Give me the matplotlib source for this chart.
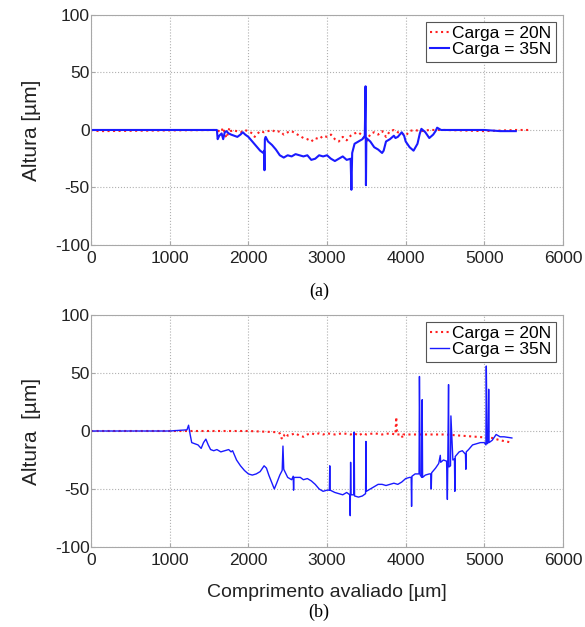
import matplotlib

matplotlib.use("Agg")
import matplotlib.pyplot as plt

# ---- (a) profile data ----
a_x20 = [0, 100, 1600, 1650, 1680, 1700, 1720, 1740, 1760, 1780, 1800, 1850, 1900,
         1950, 2000, 2050, 2080, 2120, 2150, 2200, 2250, 2300, 2350, 2400, 2450,
         2500, 2550, 2600, 2650, 2700, 2750, 2800, 2850, 2900, 2950, 3000, 3050,
         3100, 3150, 3200, 3250, 3300, 3350, 3400, 3450, 3480, 3500, 3530, 3560,
         3600, 3650, 3700, 3750, 3800, 3850, 3900, 3950, 4000, 4050, 4100, 4200,
         4300, 4500, 5000, 5400, 5600]
a_y20 = [0, -1, 0, -2, 2, -3, -7, -3, 2, -1, 0, -1, -2,
         0, -1, -3, -6, -3, -1, -2, -1, 0, -2, -1, -4,
         -2, -1, -3, -5, -7, -8, -10, -7, -8, -5, -6, -4,
         -8, -10, -6, -9, -5, -3, -2, -5, -8, -10, -6, -3,
         -2, -4, -1, -6, -1, 0, -2, -3, -5, -1, 0, -1,
         0, 0, -1, 0, 0]

a_x35 = [0, 500, 1000, 1550, 1600, 1610, 1630, 1660, 1680, 1700, 1720, 1750, 1780,
         1820, 1860, 1900, 1930, 1960, 2000, 2050, 2100, 2150, 2190, 2200, 2205,
         2210, 2220, 2250, 2300, 2350, 2400, 2450, 2500, 2550, 2600, 2650, 2700,
         2750, 2800, 2850, 2900, 2950, 3000, 3050, 3100, 3150, 3200, 3250, 3300,
         3310, 3320, 3350, 3400, 3450, 3480, 3490, 3495, 3500, 3550, 3600, 3650,
         3700, 3720, 3750, 3800, 3850, 3870, 3900, 3950, 3980, 4000, 4050, 4100,
         4150, 4180, 4200, 4250, 4300, 4350, 4380, 4400, 4450, 5000, 5200, 5400]
a_y35 = [0, 0, 0, 0, 0, -8, -5, -3, -8, -2, -1, -3, -4,
         -5, -6, -4, -2, -4, -6, -10, -14, -18, -20, -18, -35,
         -8, -6, -10, -13, -17, -22, -24, -22, -23, -21, -22, -23,
         -22, -26, -25, -22, -23, -22, -25, -27, -25, -23, -26, -25,
         -52, -20, -12, -10, -8, -5, 38, -48, -7, -10, -15, -17,
         -20, -18, -10, -8, -5, -7, -6, -2, -5, -10, -15, -18,
         -12, -3, 1, -2, -7, -4, -1, 2, 0, 0, -1, -1]

# ---- (b) profile data ----
b_x20 = [0, 1000, 2000, 2350, 2400, 2420, 2440, 2460, 2480, 2500, 2550, 2600, 2650,
         2700, 2750, 2800, 2850, 2900, 2950, 3000, 3100, 3200, 3300, 3350, 3400,
         3450, 3500, 3600, 3700, 3800, 3870, 3880, 3890, 3950, 3960, 3970, 4100,
         4300, 4500, 4700, 4900, 5100, 5200, 5350]
b_y20 = [0, 0, 0, -1, -2, -6, -7, -3, -2, -4, -3, -2, -4,
         -5, -3, -2, -3, -2, -3, -2, -3, -2, -3, -2, -4,
         -2, -3, -2, -3, -2, -3, 12, -3, -3, -6, -3, -3,
         -3, -3, -4, -5, -6, -8, -10]

b_x35 = [0, 1000, 1220, 1240, 1260, 1280, 1320, 1360, 1400, 1430, 1460, 1490, 1520,
         1560, 1600, 1650, 1700, 1750, 1780, 1800, 1850, 1900, 1950, 2000, 2050,
         2100, 2150, 2200, 2230, 2260, 2300, 2330, 2360, 2400, 2430, 2440, 2450,
         2500, 2550, 2570, 2575, 2580, 2620, 2660, 2700, 2750, 2800, 2850, 2900,
         2950, 3000, 3030, 3035, 3040, 3100, 3150, 3200, 3250, 3290, 3295, 3300,
         3305, 3340, 3345, 3350, 3400, 3450, 3490, 3495, 3500, 3550, 3600, 3650,
         3700, 3750, 3800, 3850, 3900, 3950, 4000, 4050, 4070, 4075, 4080, 4120,
         4170, 4175, 4185, 4205, 4210, 4215, 4250, 4300, 4320, 4325, 4330, 4380,
         4420, 4440, 4445, 4480, 4520, 4530, 4535, 4545, 4550, 4570, 4575, 4600,
         4620, 4625, 4630, 4680, 4720, 4760, 4765, 4770, 4800, 4850, 4900, 4950,
         5000, 5020, 5025, 5035, 5050, 5055, 5060, 5100, 5150, 5200, 5250, 5350]
b_y35 = [0, 0, 1, 5, -3, -10, -11, -12, -15, -10, -7, -12, -16,
         -17, -16, -18, -17, -16, -18, -17, -25, -30, -34, -37, -38,
         -37, -35, -30, -32, -38, -45, -50, -45, -38, -34, -13, -33,
         -40, -42, -39, -51, -40, -40, -40, -42, -41, -43, -46, -50,
         -52, -51, -51, -30, -51, -53, -54, -55, -53, -55, -73, -27,
         -55, -55, -1, -56, -57, -56, -54, -9, -52, -50, -48, -46,
         -46, -47, -46, -45, -46, -44, -41, -40, -40, -65, -39, -37,
         -37, 47, -38, -40, 27, -40, -38, -37, -37, -50, -36, -32,
         -28, -21, -27, -25, -26, -59, -29, 40, -31, -30, 13, -25,
         -24, -52, -22, -18, -17, -20, -33, -18, -16, -12, -11, -10,
         -10, -12, 56, -11, -10, 36, -10, -8, -3, -5, -5, -6]

xticks = [0, 1000, 2000, 3000, 4000, 5000, 6000]
yticks = [-100, -50, 0, 50, 100]

fig = plt.figure(figsize=(5.85, 6.27), dpi=100)
ax_a = fig.add_axes([0.1556, 0.6093, 0.8068, 0.3668])
ax_b = fig.add_axes([0.1556, 0.1276, 0.8068, 0.3700])

sans = "Liberation Sans"
serif = "Liberation Serif"
frame = "#a8a8a8"

panels = [
    (ax_a, a_x20, a_y20, a_x35, a_y35, 1.5, "Altura [µm]"),
    (ax_b, b_x20, b_y20, b_x35, b_y35, 1.0, "Altura  [µm]"),
]
for ax, x20, y20, x35, y35, lw35, ylab in panels:
    ax.plot(x20, y20, ":", color="#ff2020", linewidth=1.5, label="Carga = 20N")
    ax.plot(x35, y35, "-", color="#1a1aff", linewidth=lw35, label="Carga = 35N")
    ax.set_xlim(0, 6000)
    ax.set_ylim(-100, 100)
    ax.set_xticks(xticks)
    ax.set_yticks(yticks)
    ax.set_xticklabels([str(t) for t in xticks], fontfamily=sans, fontsize=12.5, color="#222222")
    ax.set_yticklabels([str(t) for t in yticks], fontfamily=sans, fontsize=12.5, color="#222222")
    ax.tick_params(axis="x", direction="in", length=3, color=frame, pad=4)
    ax.tick_params(axis="y", direction="in", length=3, color=frame, pad=1)
    ax.grid(True, linestyle=":", color="#b0b0b0", linewidth=0.8)
    for sp in ax.spines.values():
        sp.set_color(frame)
    ax.set_ylabel(ylab, fontfamily=sans, fontsize=15, color="#222222", labelpad=10)
    leg = ax.legend(loc="upper right", fancybox=False, framealpha=1, edgecolor="#555555",
                    prop={"family": sans, "size": 12.5}, handlelength=1.1, handletextpad=0.2,
                    labelspacing=0.05, borderpad=0.25, borderaxespad=0.4)
    leg.get_frame().set_linewidth(0.8)

ax_b.set_xlabel("Comprimento avaliado [µm]", fontfamily=sans, fontsize=14,
                color="#222222", labelpad=12)
fig.text(0.545, 0.535, "(a)", fontfamily=serif, fontsize=13, ha="center", va="center")
fig.text(0.545, 0.024, "(b)", fontfamily=serif, fontsize=13, ha="center", va="center")

fig.savefig("out.png", dpi=100)
